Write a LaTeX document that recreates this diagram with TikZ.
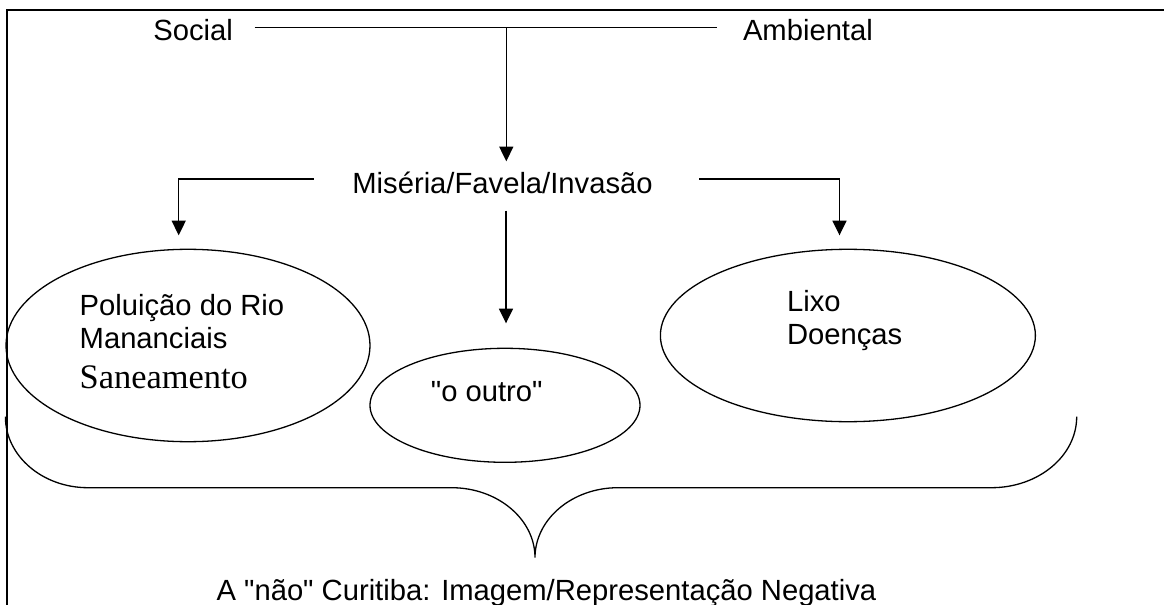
\documentclass[tikz,border=0pt]{standalone}
\usepackage{fontspec}
\setmainfont{Liberation Sans}[Ligatures=TeXOff]
\newfontfamily\timesfont{Liberation Serif}
\usetikzlibrary{arrows.meta,shapes.geometric}
\begin{document}
\begin{tikzpicture}[x=0.5pt,y=-0.5pt,
  lbl/.style={inner sep=0pt,anchor=base west,font=\fontsize{14.6}{16.65}\selectfont},
  ell/.style={draw,ellipse,inner sep=0pt,line width=0.65pt},
  ln/.style={line width=0.65pt},
  arr/.style={line width=0.65pt,-{Triangle[width=7pt,length=7.3pt]}},
  framebox/.style={line width=1pt}]
\useasboundingbox (0,0) rectangle (1164,605);
% frame
\draw[framebox] (6.5,605) -- (6.5,10) -- (1164,10);
% texts
\node[lbl] (soc) at (153,40.7) {Social};
\node[lbl] (amb) at (742.6,40.7) {Ambiental};
\node[lbl] (mis) at (352,193.7) {Miséria/Favela/Invasão};
% ellipses
\node[ell,minimum width=182pt,minimum height=96.2pt] (ellL) at (188,345.5) {};
\node[ell,minimum width=135pt,minimum height=57pt] (ellM) at (505,405.3) {};
\node[ell,minimum width=187.5pt,minimum height=86.2pt] (ellR) at (847.9,335.5) {};
\node[lbl] (pol) at (79.3,315) {Poluição do Rio};
\node[lbl] (man) at (79.3,348.3) {Mananciais};
\node[lbl,font=\timesfont\fontsize{17.2}{20}\selectfont] (san) at (79.3,388.3) {Saneamento};
\node[lbl] (out) at (430.5,401.7) {"o outro"};
\node[lbl] (lix) at (786.7,311) {Lixo};
\node[lbl] (doe) at (786.7,344.3) {Doenças};
\node[lbl] (neg) at (216.2,600) {A "não" Curitiba: Imagem/Representação Negativa};
% connector coordinates
\coordinate (tl) at (254.5,27.7);
\coordinate (tr) at (717,27.7);
\coordinate (j) at (506.3,27.7);
\coordinate (mtop) at (506.3,161.3);
\coordinate (ml) at (313.8,179);
\coordinate (lt) at (178.7,235.3);
\coordinate (mr) at (699,179);
\coordinate (rt) at (839.5,235.3);
\coordinate (mb) at (506,210.7);
\coordinate (ct) at (506,323.3);
% connectors
\draw[ln] (tl) -- (tr);
\draw[arr] (j) -- (mtop);
\draw[arr] (ml) -| (lt);
\draw[arr] (mr) -| (rt);
\draw[arr] (mb) -- (ct);
% brace
\draw[ln] (5.4,416.7) .. controls (5.4,455.9) and (42.4,487.7) .. (88,487.7)
  -- (451.6,487.7) .. controls (497.6,487.7) and (535,519.1) .. (535,557.7)
  .. controls (535,519.1) and (572.2,487.7) .. (618,487.7)
  -- (991.4,487.7) .. controls (1038.5,487.7) and (1076.7,455.9) .. (1076.7,416.7);
\end{tikzpicture}
\end{document}
